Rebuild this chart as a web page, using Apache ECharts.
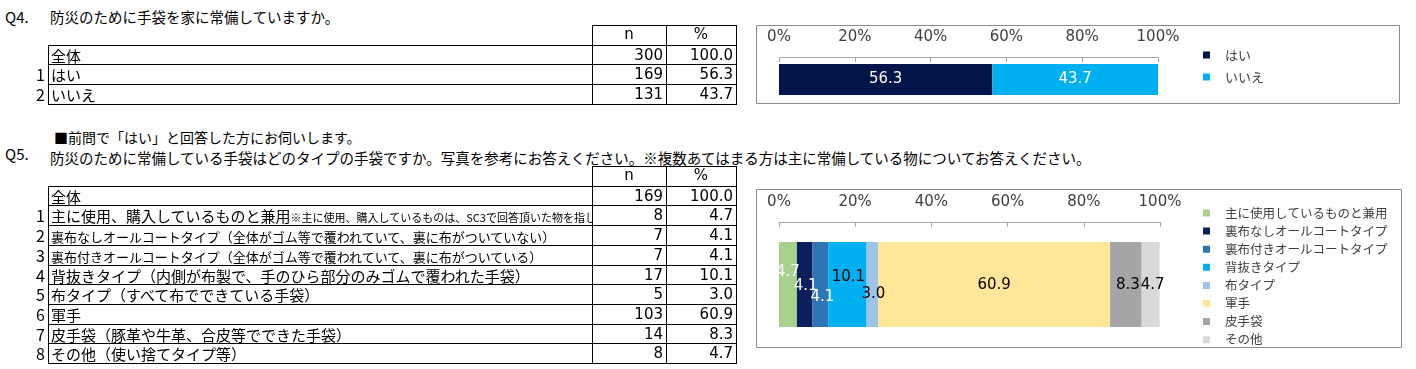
<!DOCTYPE html>
<html>
<head>
<meta charset="utf-8">
<script src="https://cdn.jsdelivr.net/npm/echarts@6/dist/echarts.min.js"></script>
<style>
  body { margin: 0; background: #fff; }
  #page { position: relative; width: 1416px; height: 369px; overflow: hidden; font-family: "Noto Sans CJK JP", sans-serif; color: #000; }
  .t { position: absolute; white-space: nowrap; }
  .cell { position: absolute; box-sizing: border-box; white-space: nowrap; overflow: hidden; }
  .ln { position: absolute; background: #000; }
  .num { font-family: "DejaVu Sans", sans-serif; font-size: 15px; text-align: right; }
  #chart { position: absolute; left: 0; top: 0; width: 1416px; height: 369px; }
</style>
</head>
<body>
<div id="page">
  <div class="t" style="left:5px;top:7px;font-size:15px;line-height:20px;">Q4.</div>
  <div class="t" style="left:50px;top:7px;font-size:14.5px;line-height:20px;">防災のために手袋を家に常備していますか。</div>
  <div class="t" style="left:54px;top:127px;font-size:14px;line-height:20px;">■前問で「はい」と回答した方にお伺いします。</div>
  <div class="t" style="left:5px;top:144px;font-size:15px;line-height:20px;">Q5.</div>
  <div class="t" style="left:50px;top:148px;font-size:14.5px;line-height:20px;">防災のために常備している手袋はどのタイプの手袋ですか。写真を参考にお答えください。※複数あてはまる方は主に常備している物についてお答えください。</div>
  <div id="chart"></div>
</div>
<script>
// Q4
const q4Total = 300
const q4Cats = ['はい', 'いいえ']
const q4N = [169, 131]
const q4Pct = [56.3, 43.7]

// Q5
const q5Total = 169
const q5Labels = [
  '主に使用、購入しているものと兼用',
  '裏布なしオールコートタイプ（全体がゴム等で覆われていて、裏に布がついていない）',
  '裏布付きオールコートタイプ（全体がゴム等で覆われていて、裏に布がついている）',
  '背抜きタイプ（内側が布製で、手のひら部分のみゴムで覆われた手袋）',
  '布タイプ（すべて布でできている手袋）',
  '軍手',
  '皮手袋（豚革や牛革、合皮等でできた手袋）',
  'その他（使い捨てタイプ等）'
]
const q5Notes = ['※主に使用、購入しているものは、SC3で回答頂いた物を指します', '', '', '', '', '', '', '']
const q5Legend = ['主に使用しているものと兼用', '裏布なしオールコートタイプ', '裏布付きオールコートタイプ', '背抜きタイプ', '布タイプ', '軍手', '皮手袋', 'その他']
const q5N = [8, 7, 7, 17, 5, 103, 14, 8]
const q5Pct = [4.7, 4.1, 4.1, 10.1, 3.0, 60.9, 8.3, 4.7]

// styles
const q4Colors = ['#02154a', '#00b0f0']
const q5Colors = ['#a9d18e', '#0b1f5a', '#2e75b6', '#00b0f0', '#9dc3e6', '#ffe699', '#a5a5a5', '#d9d9d9']
const q5LabelSize = [15, 13, 13, 15, 15, 15, 15, 15]
const q5LabelColor = ['#fff', '#fff', '#fff', '#000', '#000', '#000', '#000', '#000']
const q5LabelOffset = [[0, -12], [1, 2], [2, 13], [1, -7], [1, 10], [0, 1], [2, 1], [2, 1]]

const page = document.getElementById('page')

function add(cls, style, html) {
  const d = document.createElement('div')
  d.className = cls
  Object.assign(d.style, style)
  if (html !== undefined) d.innerHTML = html
  page.appendChild(d)
  return d
}

function drawTable(top, rowH, total, labels, ns, pcts, sizes, notes) {
  const L = 48, C1 = 592, C2 = 666, R = 736
  const y = k => Math.round(top + k * rowH)
  const dataRows = labels.length + 1
  // header cells
  add('ln', { left: C1 + 'px', top: y(0) + 'px', width: (R - C1 + 1) + 'px', height: '1px' })
  add('cell num', { left: C1 + 'px', top: y(0) + 'px', width: (C2 - C1) + 'px', height: rowH + 'px', lineHeight: rowH + 'px', textAlign: 'center' }, 'n')
  add('cell num', { left: C2 + 'px', top: y(0) + 'px', width: (R - C2) + 'px', height: rowH + 'px', lineHeight: rowH + 'px', textAlign: 'center' }, '%')
  for (let k = 1; k <= dataRows + 1; k++) {
    add('ln', { left: L + 'px', top: y(k) + 'px', width: (R - L + 1) + 'px', height: '1px' })
  }
  const bottom = y(dataRows + 1)
  add('ln', { left: L + 'px', top: y(1) + 'px', width: '1px', height: (bottom - y(1) + 1) + 'px' })
  ;[C1, C2, R].forEach(x => add('ln', { left: x + 'px', top: y(0) + 'px', width: '1px', height: (bottom - y(0) + 1) + 'px' }))
  const rows = [{ no: '', label: '全体', note: '', n: total, p: 100, size: 15 }]
  labels.forEach((lb, i) => rows.push({ no: String(i + 1), label: lb, note: notes ? notes[i] : '', n: ns[i], p: pcts[i], size: sizes ? sizes[i] : 15 }))
  rows.forEach((r, i) => {
    const t = y(i + 1) + 1, h = y(i + 2) - y(i + 1) - 1
    const base = { top: t + 'px', height: h + 'px', lineHeight: h + 'px' }
    if (r.no) add('cell', Object.assign({ left: '20px', width: '25px', textAlign: 'right', fontSize: '16px' }, base), r.no)
    let html = '<span style="font-size:' + r.size + 'px">' + r.label + '</span>'
    if (r.note) html += '<span style="font-size:11px">' + r.note + '</span>'
    add('cell', Object.assign({ left: (L + 3) + 'px', width: (C1 - L - 3) + 'px' }, base), html)
    add('cell num', Object.assign({ left: C1 + 'px', width: (C2 - C1 - 3) + 'px' }, base), String(r.n))
    add('cell num', Object.assign({ left: C2 + 'px', width: (R - C2 - 3) + 'px' }, base), r.p.toFixed(1))
  })
}

drawTable(25, 19.7, q4Total, q4Cats, q4N, q4Pct, null, null)
drawTable(166, 19.7, q5Total, q5Labels, q5N, q5Pct, q5LabelSize, q5Notes)

const chart = echarts.init(document.getElementById('chart'))

const valueAxis = gridIndex => ({
  type: 'value',
  gridIndex,
  position: 'top',
  min: 0,
  max: 100,
  interval: 20,
  axisLine: { show: true, lineStyle: { color: '#a6a6a6' } },
  axisTick: { show: true, inside: true, length: 5, lineStyle: { color: '#a6a6a6' } },
  axisLabel: { formatter: '{value}%', color: '#404040', fontSize: 15, fontFamily: 'DejaVu Sans', margin: 12 },
  splitLine: { show: false }
})

// square at the left of a wider icon box, so the text sits further right
const legendIcon = 'path://M0,0h7v7h-7zM16.9,6.9h0.1v0.1h-0.1z'

const legendBase = (top, gap, size) => ({
  orient: 'vertical',
  left: 1203,
  top,
  padding: 0,
  itemWidth: 17,
  itemHeight: 7,
  itemGap: gap,
  icon: legendIcon,
  textStyle: { color: '#404040', fontSize: size, lineHeight: 16, fontFamily: 'Noto Sans CJK JP' }
})

const option = {
  animation: false,
  backgroundColor: 'transparent',
  graphic: [
    { type: 'rect', shape: { x: 756.5, y: 25.5, width: 643, height: 78 }, style: { fill: 'none', stroke: '#8c8c8c', lineWidth: 1 }, silent: true },
    { type: 'rect', shape: { x: 756.5, y: 189.5, width: 645, height: 158 }, style: { fill: 'none', stroke: '#8c8c8c', lineWidth: 1 }, silent: true }
  ],
  grid: [
    { left: 779, top: 57, width: 379, height: 45 },
    { left: 779, top: 222, width: 381, height: 125 }
  ],
  xAxis: [valueAxis(0), valueAxis(1)],
  yAxis: [
    { type: 'category', gridIndex: 0, data: ['全体'], show: false },
    { type: 'category', gridIndex: 1, data: ['全体'], show: false }
  ],
  legend: [
    Object.assign(legendBase(47, 6, 13), { data: q4Cats }),
    Object.assign(legendBase(205, 2.1, 12.5), { data: q5Legend })
  ],
  series: [
    ...q4Cats.map((name, i) => ({
      name,
      type: 'bar',
      stack: 'q4',
      xAxisIndex: 0,
      yAxisIndex: 0,
      barWidth: 31,
      data: [q4Pct[i]],
      itemStyle: { color: q4Colors[i] },
      label: { show: true, position: 'inside', color: '#fff', fontSize: 15, fontFamily: 'DejaVu Sans', formatter: p => p.value.toFixed(1) }
    })),
    ...q5Legend.map((name, i) => ({
      name,
      type: 'bar',
      stack: 'q5',
      xAxisIndex: 1,
      yAxisIndex: 1,
      barWidth: 85,
      data: [q5Pct[i]],
      itemStyle: { color: q5Colors[i] },
      label: {
        show: true, position: 'inside', color: q5LabelColor[i], offset: q5LabelOffset[i],
        fontSize: 15, fontFamily: 'DejaVu Sans', formatter: p => p.value.toFixed(1)
      }
    }))
  ]
}

chart.setOption(option)
</script>
</body>
</html>
